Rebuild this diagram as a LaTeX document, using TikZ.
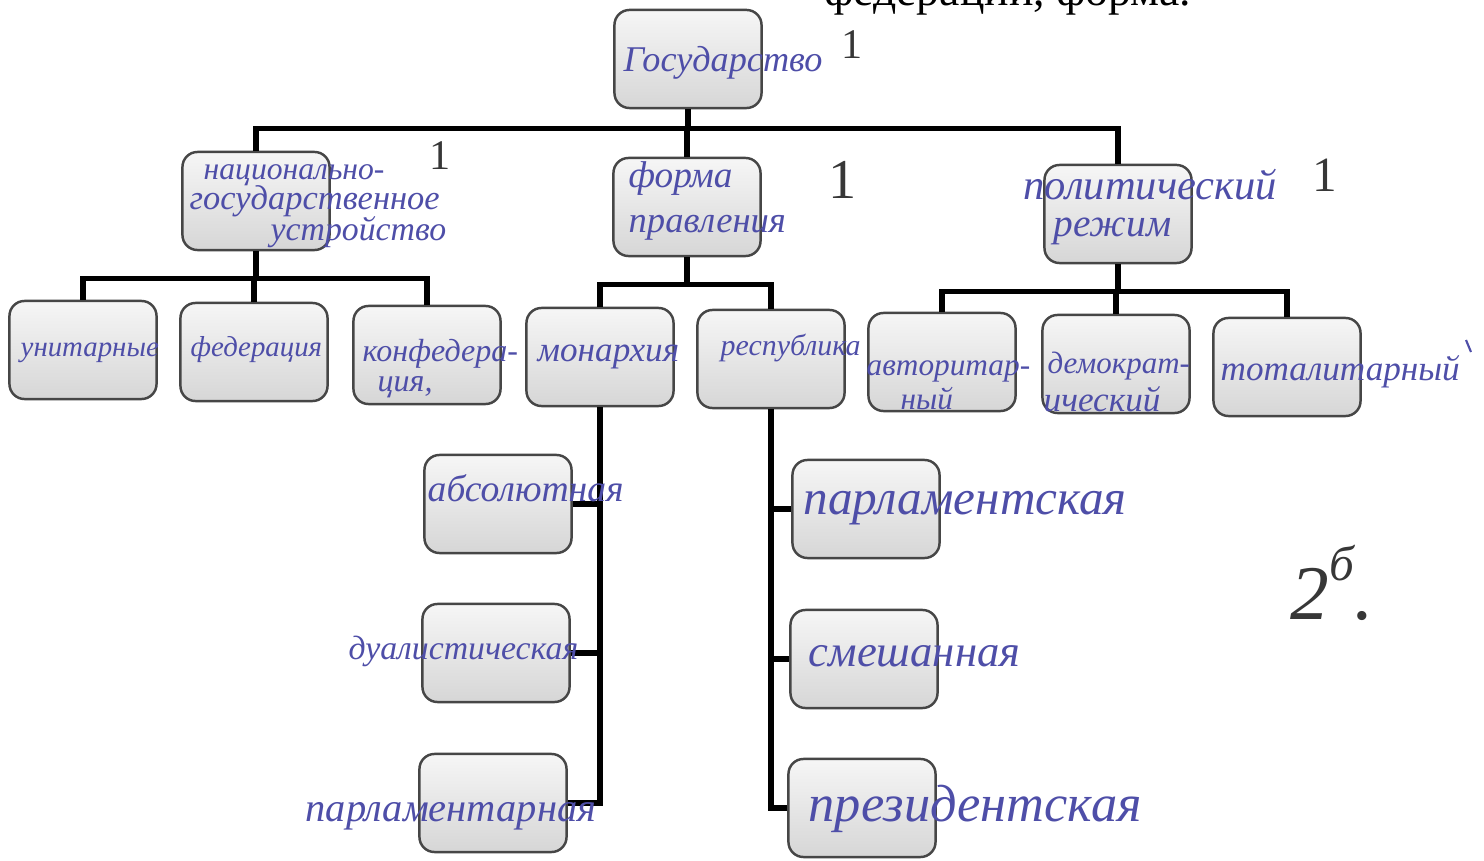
\documentclass[tikz,border=0pt]{standalone}
\usepackage{fontspec}
\setmainfont{Liberation Serif}
\newfontfamily\hand{Liberation Serif}
\definecolor{ink}{RGB}{78,78,168}
\definecolor{boxline}{RGB}{70,70,70}
\definecolor{boxtop}{RGB}{246,246,246}
\definecolor{boxbot}{RGB}{214,214,214}
\definecolor{pencil}{RGB}{55,55,55}
\begin{document}
\begin{tikzpicture}[x=0.01cm,y=-0.01cm,
  box/.style={draw=boxline, line width=0.7pt, rounded corners=0.15cm,
    top color=boxtop, bottom color=boxbot,
    minimum width=1.47cm, minimum height=0.98cm, inner sep=0pt},
  hw/.style={text=ink, font=\hand\itshape\fontsize{#1}{#1}\selectfont, inner sep=0pt, anchor=base west},
  conn/.style={line width=1.5pt, black},
  grade/.style={text=pencil, font=\fontsize{#1}{#1}\selectfont, inner sep=0pt}
]
\useasboundingbox (0,0) rectangle (1484,861);
\fill[white] (0,0) rectangle (1484,861);

% printed heading (cut off at top)
\node[anchor=base east, inner sep=0pt, font=\fontsize{13}{13}\selectfont] (head) at (1192,6) {федерации, форма.};

% boxes
\node[box] (gos) at (688,59) {};
\node[box] (nat) at (256,201) {};
\node[box] (form) at (687,207) {};
\node[box] (pol) at (1118,214) {};
\node[box] (unit) at (83,350) {};
\node[box] (fed) at (254,352) {};
\node[box] (conf) at (427,355) {};
\node[box] (mon) at (600,357) {};
\node[box] (rep) at (771,359) {};
\node[box] (auth) at (942,362) {};
\node[box] (dem) at (1116,364) {};
\node[box] (tot) at (1287,367) {};
\node[box] (abs) at (498,504) {};
\node[box] (dual) at (496,653) {};
\node[box] (parlm) at (493,803) {};
\node[box] (parlr) at (866,509) {};
\node[box] (mix) at (864,659) {};
\node[box] (pres) at (862,808) {};

% connectors
\draw[conn] (gos.south) -- ++(0,19) coordinate (j1);
\draw[conn] (j1) -| (nat.north);
\draw[conn] (j1) -| (pol.north);
\draw[conn] (j1) -| (form.north);
\draw[conn] (nat.south) -- ++(0,27) coordinate (j2);
\draw[conn] (j2) -| (unit.north);
\draw[conn] (j2) -| (fed.north);
\draw[conn] (j2) -| (conf.north);
\draw[conn] (form.south) -- ++(0,27) coordinate (j3);
\draw[conn] (j3) -| (mon.north);
\draw[conn] (j3) -| (rep.north);
\draw[conn] (pol.south) -- ++(0,27) coordinate (j4);
\draw[conn] (j4) -| (auth.north);
\draw[conn] (j4) -| (dem.north);
\draw[conn] (j4) -| (tot.north);
\draw[conn] (mon.south) |- (abs.east);
\draw[conn] (mon.south) |- (dual.east);
\draw[conn] (mon.south) |- (parlm.east);
\draw[conn] (rep.south) |- (parlr.west);
\draw[conn] (rep.south) |- (mix.west);
\draw[conn] (rep.south) |- (pres.west);

% handwritten labels
\node[hw=10.3] (tGos) at (623,72) {Государство};
\node[hw=9] (tNat1) at (203,180) {национально-};
\node[hw=9.8] (tNat2) at (189,210) {государственное};
\node[hw=9.6] (tNat3) at (270,241) {устройство};
\node[hw=10.6] (tForm1) at (628,188) {форма};
\node[hw=10.4] (tForm2) at (628,233) {правления};
\node[hw=12.1] (tPol1) at (1023,200) {политический};
\node[hw=11.2] (tPol2) at (1053,237) {режим};
\node[hw=8.2] (tUnit) at (20,357) {унитарные};
\node[hw=8.2] (tFed) at (190,357) {федерация};
\node[hw=9.1] (tConf1) at (362,362) {конфедера-};
\node[hw=9.1] (tConf2) at (377,392) {ция,};
\node[hw=10] (tMon) at (537,362) {монархия};
\node[hw=8.5] (tRep) at (720,356) {республика};
\node[hw=8.9] (tAuth1) at (866,376) {авторитар-};
\node[hw=8.9] (tAuth2) at (900,410) {ный};
\node[hw=8.8] (tDem1) at (1047,374) {демократ-};
\node[hw=10] (tDem2) at (1043,412) {ический};
\node[hw=10] (tTot) at (1220,381) {тоталитарный};
\draw[ink, line width=0.6pt] (1466,340) -- (1471,352);
\node[hw=10.7] (tAbs) at (427,502) {абсолютная};
\node[hw=9.6] (tDual) at (348,660) {дуалистическая};
\node[hw=11.5] (tParlm) at (305,822) {парламентарная};
\node[hw=14] (tParlr) at (803,515) {парламентская};
\node[hw=12.7] (tMix) at (808,667) {смешанная};
\node[hw=14.9] (tPres) at (808,822) {президентская};

% grades
\node[grade=12] (g1) at (852,45) {1};
\node[grade=12] (g2) at (440,156) {1};
\node[grade=16] (g3) at (843,180) {1};
\node[grade=14] (g4) at (1325,175) {1};
\node[grade=22, font=\itshape\fontsize{22}{22}\selectfont, anchor=base west] (g5) at (1290,620) {2\raisebox{1.1ex}{\fontsize{14}{14}\selectfont б}.};
\end{tikzpicture}
\end{document}
